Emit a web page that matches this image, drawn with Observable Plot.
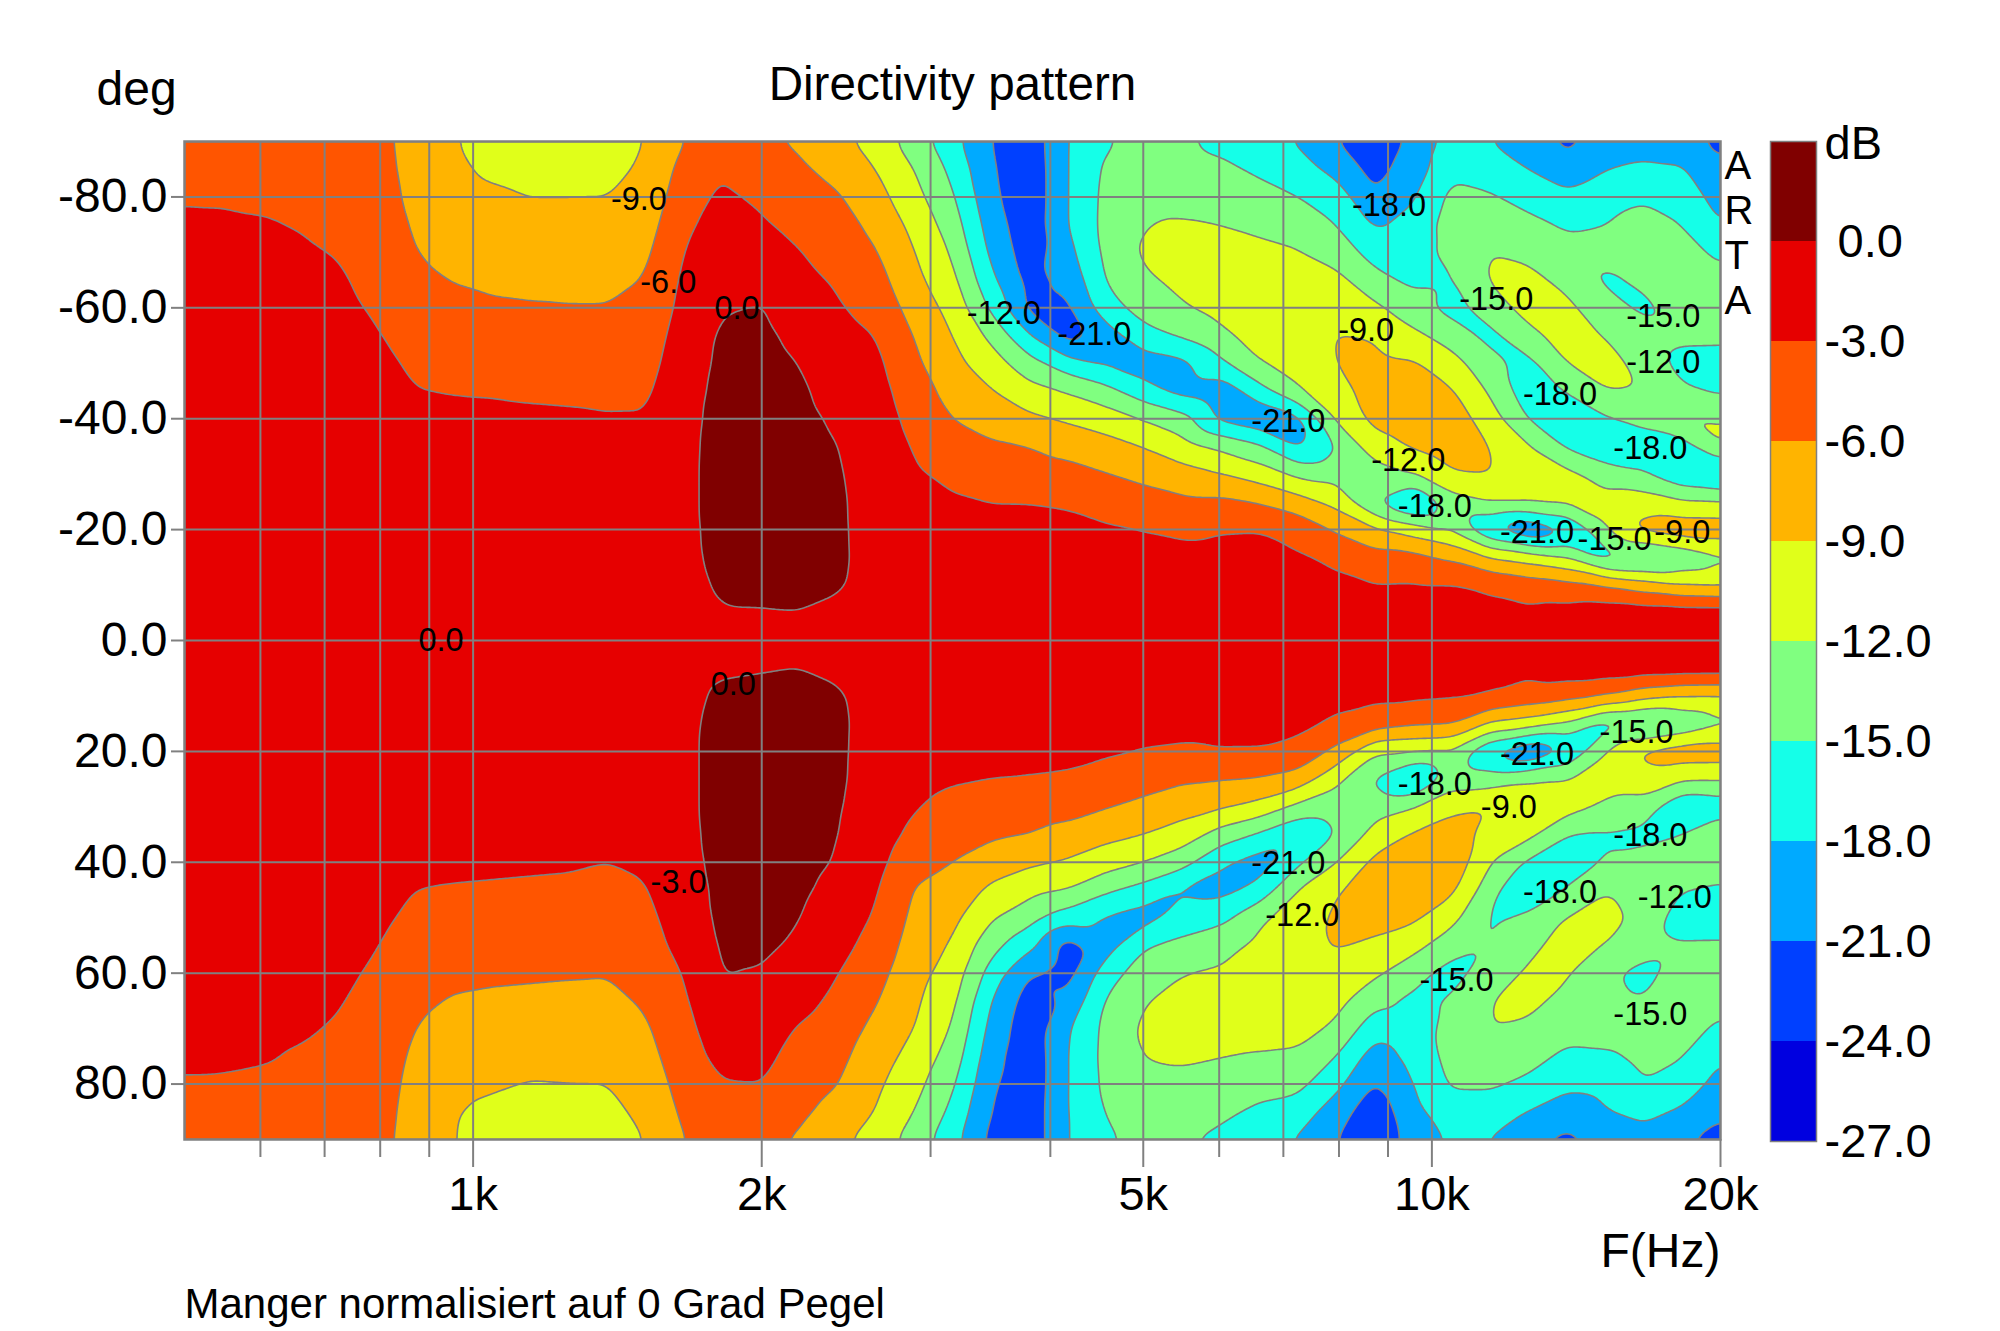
<!DOCTYPE html>
<html><head><meta charset="utf-8">
<script src="https://cdn.jsdelivr.net/npm/d3@7"></script>
<script src="https://cdn.jsdelivr.net/npm/@observablehq/plot@0.6"></script>
<style>
html,body{margin:0;padding:0;background:#fff}
#wrap{position:relative;width:2000px;height:1331px;overflow:hidden}
#wrap svg{position:absolute;left:0;top:0;background:transparent}
</style></head><body><div id="wrap"></div>
<script>
// Frequency range (log scale, evenly spaced columns) and angle rows (-90..90 by 5)
const freqMin = 500, freqMax = 20000;
const angles = [-90,-85,-80,-75,-70,-65,-60,-55,-50,-45,-40,-35,-30,-25,-20,-15,-10,-5,0,5,10,15,20,25,30,35,40,45,50,55,60,65,70,75,80,85,90];
// Level in dB, one list per frequency column, each read top (-90) to bottom (+90)
const dbColumns = [
[-4.0,-3.7,-3.2,-2.6,-2.3,-2.1,-1.9,-1.7,-1.5,-1.3,-1.2,-1.1,-1.0,-0.9,-0.8,-0.7,-0.6,-0.5,-0.5,-0.5,-0.6,-0.7,-0.8,-0.9,-1.0,-1.1,-1.2,-1.3,-1.5,-1.7,-1.9,-2.1,-2.3,-2.6,-3.2,-3.7,-4.0],
[-4.0,-3.7,-3.2,-2.7,-2.4,-2.1,-1.9,-1.7,-1.5,-1.3,-1.2,-1.1,-1.0,-0.9,-0.8,-0.7,-0.6,-0.6,-0.5,-0.6,-0.6,-0.7,-0.8,-0.9,-1.0,-1.1,-1.2,-1.3,-1.5,-1.7,-1.9,-2.1,-2.4,-2.7,-3.2,-3.7,-4.0],
[-4.2,-3.9,-3.4,-2.8,-2.5,-2.2,-2.0,-1.8,-1.6,-1.4,-1.3,-1.1,-1.0,-0.9,-0.8,-0.7,-0.6,-0.6,-0.5,-0.6,-0.6,-0.7,-0.8,-0.9,-1.0,-1.1,-1.3,-1.4,-1.6,-1.8,-2.0,-2.2,-2.5,-2.8,-3.4,-3.9,-4.2],
[-4.4,-4.0,-3.6,-3.1,-2.7,-2.4,-2.1,-1.9,-1.7,-1.5,-1.3,-1.2,-1.0,-0.9,-0.8,-0.7,-0.7,-0.6,-0.6,-0.6,-0.7,-0.7,-0.8,-0.9,-1.0,-1.2,-1.3,-1.5,-1.7,-1.9,-2.1,-2.4,-2.7,-3.2,-3.6,-4.0,-4.4],
[-4.8,-4.4,-4.0,-3.6,-3.1,-2.7,-2.4,-2.1,-1.9,-1.6,-1.4,-1.2,-1.1,-1.0,-0.9,-0.8,-0.7,-0.7,-0.7,-0.7,-0.7,-0.8,-0.9,-1.0,-1.1,-1.2,-1.4,-1.6,-1.9,-2.1,-2.4,-2.8,-3.2,-3.6,-4.0,-4.4,-4.8],
[-5.2,-5.0,-4.7,-4.4,-4.1,-3.7,-3.3,-2.8,-2.3,-1.9,-1.6,-1.4,-1.2,-1.1,-1.0,-0.9,-0.8,-0.8,-0.8,-0.8,-0.8,-0.9,-1.0,-1.1,-1.2,-1.4,-1.7,-2.0,-2.4,-2.9,-3.4,-3.9,-4.3,-4.6,-4.8,-5.0,-5.2],
[-7.0,-6.9,-6.7,-6.3,-5.9,-5.3,-4.7,-4.0,-3.4,-2.9,-2.3,-1.9,-1.6,-1.3,-1.2,-1.1,-1.0,-0.9,-0.9,-0.9,-1.0,-1.1,-1.2,-1.3,-1.6,-1.9,-2.3,-3.0,-3.6,-4.2,-4.8,-5.4,-6.0,-6.4,-6.7,-6.9,-7.0],
[-8.8,-8.4,-8.0,-7.6,-6.9,-6.1,-5.3,-4.6,-3.9,-3.1,-2.4,-1.9,-1.6,-1.4,-1.2,-1.1,-1.0,-0.9,-0.9,-0.9,-1.0,-1.1,-1.2,-1.4,-1.6,-1.8,-2.4,-3.2,-3.9,-4.6,-5.4,-6.2,-7.0,-7.8,-8.4,-8.8,-8.9],
[-10.2,-9.5,-8.5,-7.9,-7.2,-6.4,-5.7,-4.9,-4.1,-3.2,-2.4,-1.9,-1.6,-1.4,-1.2,-1.1,-1.0,-0.9,-0.8,-0.9,-1.0,-1.1,-1.2,-1.4,-1.6,-1.8,-2.5,-3.3,-4.0,-4.8,-5.6,-6.4,-7.2,-8.0,-8.7,-9.5,-10.3],
[-10.6,-9.9,-9.0,-8.2,-7.4,-6.6,-5.8,-5.0,-4.2,-3.4,-2.5,-1.9,-1.6,-1.4,-1.2,-1.1,-1.0,-0.9,-0.8,-0.9,-1.0,-1.1,-1.2,-1.4,-1.5,-1.7,-2.6,-3.4,-4.2,-4.9,-5.7,-6.5,-7.4,-8.3,-9.1,-10.0,-10.7],
[-10.7,-10.0,-9.0,-8.2,-7.4,-6.6,-5.9,-5.1,-4.3,-3.5,-2.6,-2.0,-1.6,-1.4,-1.2,-1.1,-1.0,-0.9,-0.8,-0.9,-1.0,-1.1,-1.2,-1.4,-1.5,-1.8,-2.7,-3.5,-4.3,-5.0,-5.8,-6.6,-7.4,-8.3,-9.0,-10.0,-10.7],
[-10.3,-9.7,-9.0,-8.2,-7.4,-6.6,-5.9,-5.2,-4.4,-3.6,-2.8,-2.1,-1.7,-1.4,-1.2,-1.1,-1.0,-0.9,-0.8,-0.9,-1.0,-1.1,-1.2,-1.4,-1.6,-2.0,-3.0,-3.8,-4.5,-5.2,-5.9,-6.6,-7.4,-8.2,-9.0,-9.8,-10.4],
[-9.0,-8.6,-8.1,-7.4,-6.6,-5.9,-5.2,-4.6,-4.1,-3.5,-2.8,-2.2,-1.7,-1.4,-1.2,-1.0,-0.9,-0.8,-0.8,-0.8,-0.9,-1.0,-1.2,-1.4,-1.6,-2.0,-2.6,-3.2,-3.8,-4.3,-4.9,-5.7,-6.4,-7.0,-7.6,-8.3,-9.0],
[-6.0,-5.0,-4.2,-3.4,-2.9,-2.5,-2.2,-1.7,-1.3,-0.9,-0.6,-0.45,-0.4,-0.4,-0.4,-0.4,-0.5,-0.6,-0.6,-0.6,-0.5,-0.4,-0.4,-0.4,-0.4,-0.5,-0.7,-1.0,-1.4,-2.0,-2.9,-3.4,-3.9,-4.4,-5.0,-5.5,-6.0],
[-4.5,-3.2,-2.5,-2.2,-1.7,-1.3,-0.2,0.4,0.5,0.6,0.6,0.6,0.6,0.6,0.5,0.4,0.2,-0.1,-0.5,-0.2,0.3,0.5,0.6,0.6,0.6,0.6,0.6,0.5,0.5,0.3,0.1,-0.4,-1.2,-2.0,-3.2,-4.2,-4.9],
[-5.6,-4.6,-3.3,-2.7,-2.0,-1.1,0.2,0.6,0.8,0.9,0.9,0.9,0.9,0.9,0.9,0.7,0.4,-0.1,-0.4,-0.1,0.4,0.7,0.9,0.9,0.9,0.9,0.9,0.9,0.7,0.4,-0.1,-0.8,-1.5,-2.2,-3.0,-4.4,-5.6],
[-6.4,-5.5,-4.5,-3.6,-2.9,-2.3,-1.5,-0.6,0.0,0.4,0.6,0.7,0.8,0.8,0.8,0.7,0.5,-0.05,-0.5,0.0,0.5,0.7,0.8,0.8,0.7,0.7,0.6,0.4,0.1,-0.3,-1.0,-2.0,-3.2,-4.0,-4.7,-5.4,-6.3],
[-8.2,-6.9,-5.7,-4.7,-4.0,-3.3,-2.7,-2.0,-1.4,-0.9,-0.3,0.05,0.2,0.3,0.3,0.3,0.2,-0.4,-0.6,-0.3,0.2,0.3,0.3,0.3,0.2,0.1,-0.1,-0.6,-1.3,-2.0,-2.9,-3.7,-4.5,-5.2,-5.9,-7.0,-8.3],
[-10.2,-9.0,-7.9,-6.8,-5.8,-4.9,-4.0,-3.0,-2.3,-1.8,-1.4,-1.1,-0.9,-0.8,-0.7,-0.6,-0.6,-0.6,-0.6,-0.6,-0.6,-0.6,-0.7,-0.8,-1.0,-1.4,-2.0,-2.7,-3.3,-4.1,-5.0,-5.8,-6.7,-7.6,-8.4,-9.1,-10.3],
[-13.5,-12.0,-11.0,-9.8,-8.9,-8.1,-7.1,-6.1,-5.4,-4.6,-3.9,-3.2,-2.6,-2.0,-1.6,-1.3,-1.1,-0.9,-0.9,-0.9,-1.0,-1.2,-1.5,-2.0,-2.8,-3.7,-5.0,-6.2,-6.7,-7.3,-7.9,-8.5,-9.0,-10.0,-11.0,-12.0,-13.3],
[-17.0,-15.7,-14.6,-13.5,-12.3,-11.2,-10.0,-9.0,-8.2,-7.0,-6.0,-5.0,-3.6,-2.7,-2.1,-1.7,-1.4,-1.2,-1.0,-1.0,-1.2,-1.4,-1.8,-2.7,-3.9,-4.9,-6.0,-7.1,-8.3,-9.3,-10.3,-11.2,-12.2,-13.3,-14.5,-15.7,-16.9],
[-21.0,-20.6,-20.2,-19.4,-18.6,-17.3,-15.5,-12.7,-10.6,-8.8,-7.2,-5.6,-4.3,-3.0,-2.3,-1.9,-1.6,-1.4,-1.2,-1.2,-1.4,-1.7,-2.2,-3.0,-4.1,-5.5,-7.5,-9.6,-11.6,-14.0,-16.2,-18.0,-18.9,-19.7,-20.4,-21.1,-21.8],
[-23.0,-23.3,-23.3,-23.0,-22.6,-22.0,-21.8,-17.8,-13.9,-11.0,-8.4,-6.0,-4.6,-3.0,-2.4,-2.0,-1.7,-1.5,-1.3,-1.3,-1.5,-1.8,-2.3,-3.1,-4.6,-6.0,-8.5,-11.1,-13.8,-17.2,-21.1,-22.4,-23.0,-23.3,-23.3,-23.0,-23.0],
[-18.0,-18.0,-18.0,-18.0,-19.0,-20.3,-21.6,-22.2,-16.8,-12.2,-9.4,-7.0,-5.0,-3.2,-2.5,-2.1,-1.8,-1.6,-1.4,-1.4,-1.6,-1.9,-2.4,-3.3,-4.9,-7.0,-9.3,-12.0,-16.5,-22.5,-22.2,-20.4,-18.3,-18.0,-18.0,-18.0,-18.0],
[-15.4,-14.5,-14.2,-14.1,-14.3,-14.8,-16.2,-19.5,-18.4,-14.0,-10.5,-7.9,-5.9,-4.0,-2.7,-2.2,-1.9,-1.7,-1.5,-1.5,-1.7,-2.0,-2.6,-4.2,-5.8,-8.2,-10.6,-14.5,-18.3,-19.4,-16.4,-14.7,-14.2,-14.1,-14.3,-14.8,-15.5],
[-13.6,-13.2,-12.8,-12.1,-11.5,-12.4,-13.8,-16.0,-19.5,-16.9,-12.2,-9.1,-6.8,-4.8,-3.0,-2.3,-2.0,-1.8,-1.6,-1.6,-1.8,-2.1,-3.1,-4.9,-6.7,-9.0,-12.0,-16.2,-19.3,-15.2,-13.4,-12.1,-11.4,-11.9,-12.9,-13.4,-14.0],
[-14.6,-13.8,-13.4,-11.6,-11.0,-11.4,-12.2,-14.5,-18.8,-19.2,-13.9,-10.9,-7.9,-5.4,-3.3,-2.5,-2.1,-1.9,-1.7,-1.7,-1.9,-2.3,-3.3,-5.6,-7.8,-10.4,-13.9,-18.5,-16.5,-14.3,-12.0,-11.3,-11.0,-11.5,-12.9,-13.9,-14.7],
[-15.9,-14.3,-13.5,-12.0,-11.0,-10.6,-11.0,-12.6,-15.6,-20.0,-18.8,-12.6,-8.9,-5.4,-3.0,-2.6,-2.2,-2.0,-1.8,-1.8,-2.0,-2.4,-3.0,-5.9,-8.6,-13.4,-17.6,-19.0,-15.7,-13.1,-11.6,-10.6,-10.6,-11.9,-13.5,-14.4,-15.7],
[-16.9,-15.6,-13.8,-12.8,-11.1,-10.6,-10.4,-10.9,-12.0,-16.2,-20.2,-14.5,-10.4,-6.2,-2.9,-2.6,-2.3,-2.1,-1.9,-1.9,-2.1,-2.5,-3.0,-6.2,-10.0,-15.5,-19.4,-17.0,-12.5,-11.2,-10.5,-10.3,-10.6,-12.3,-13.9,-15.6,-17.0],
[-18.3,-16.8,-15.0,-13.4,-11.8,-10.7,-10.2,-10.5,-11.3,-12.1,-19.0,-18.6,-12.7,-7.7,-4.0,-2.7,-2.4,-2.2,-2.0,-2.0,-2.2,-2.4,-3.8,-7.2,-12.8,-17.9,-15.6,-11.8,-10.6,-10.0,-10.0,-10.2,-10.8,-12.6,-14.2,-16.4,-18.3],
[-20.9,-19.0,-16.4,-15.0,-13.6,-11.0,-10.0,-8.9,-8.9,-10.0,-11.4,-15.0,-13.0,-9.9,-6.4,-3.4,-2.6,-2.3,-2.1,-2.1,-2.3,-3.4,-6.8,-11.2,-13.6,-15.0,-12.0,-9.2,-8.5,-8.8,-10.0,-11.1,-12.6,-15.0,-17.2,-19.6,-20.9],
[-24.1,-22.0,-20.8,-18.4,-16.0,-14.2,-11.3,-9.2,-8.3,-7.9,-8.2,-10.2,-13.5,-15.2,-8.4,-5.0,-2.8,-2.4,-2.2,-2.2,-2.4,-4.5,-11.6,-15.4,-13.1,-10.9,-8.2,-7.7,-8.0,-9.5,-11.4,-14.2,-16.9,-19.4,-21.2,-23.0,-24.2],
[-20.0,-19.6,-18.3,-17.0,-16.2,-15.6,-13.8,-11.3,-8.6,-7.3,-7.4,-8.6,-12.0,-19.0,-10.4,-5.0,-2.7,-2.4,-2.2,-2.2,-2.4,-5.4,-12.0,-19.0,-12.0,-8.6,-7.1,-7.3,-8.4,-11.0,-13.9,-15.6,-16.3,-17.0,-18.0,-18.8,-19.3],
[-17.0,-15.7,-14.2,-13.5,-14.0,-15.3,-16.2,-13.3,-10.9,-8.7,-7.3,-7.2,-9.3,-13.4,-12.3,-6.4,-2.7,-2.4,-2.3,-2.3,-2.6,-5.7,-12.4,-13.5,-9.8,-7.4,-6.9,-8.3,-11.0,-13.7,-16.2,-14.6,-14.1,-14.0,-14.6,-16.5,-17.7],
[-18.0,-16.8,-14.6,-13.2,-12.0,-11.7,-13.3,-16.0,-13.9,-12.4,-10.6,-9.0,-8.9,-11.8,-18.3,-9.0,-3.3,-2.5,-2.3,-2.3,-3.0,-9.3,-18.3,-13.5,-8.9,-10.3,-11.8,-13.8,-15.3,-15.1,-13.3,-12.0,-12.0,-13.4,-14.6,-16.4,-18.1],
[-19.6,-18.0,-16.2,-14.1,-12.6,-11.3,-11.0,-12.7,-16.0,-16.8,-15.2,-11.6,-10.6,-11.5,-21.3,-10.3,-4.3,-2.5,-2.4,-2.4,-4.0,-10.4,-21.3,-12.2,-10.0,-11.0,-15.6,-18.4,-14.0,-12.7,-11.6,-11.3,-12.5,-14.0,-15.6,-18.1,-20.5],
[-21.8,-19.8,-17.3,-15.4,-14.0,-12.7,-11.4,-11.0,-11.8,-14.8,-17.6,-15.5,-11.0,-11.2,-18.6,-12.0,-5.0,-2.0,-1.5,-1.5,-4.8,-12.5,-18.2,-11.8,-10.6,-15.0,-17.3,-14.6,-11.8,-10.9,-11.6,-12.8,-14.0,-15.6,-17.4,-19.4,-21.8],
[-19.7,-18.1,-16.1,-15.0,-13.9,-15.6,-13.6,-12.1,-11.2,-11.9,-15.4,-17.4,-13.4,-11.0,-12.3,-16.5,-6.0,-1.3,-1.0,-1.3,-6.0,-16.5,-11.9,-10.8,-12.5,-15.4,-14.6,-12.0,-11.2,-12.0,-14.6,-15.3,-13.8,-15.4,-17.3,-18.2,-20.0],
[-19.4,-17.4,-15.4,-13.8,-13.3,-14.3,-15.8,-13.4,-12.7,-12.1,-14.2,-16.4,-14.8,-10.4,-8.0,-16.5,-7.6,-1.3,-1.0,-1.3,-8.0,-16.5,-8.4,-10.1,-13.3,-15.8,-13.9,-12.3,-12.6,-13.6,-16.0,-14.9,-13.9,-14.2,-15.1,-17.3,-19.0],
[-19.1,-17.8,-16.3,-15.0,-14.0,-13.7,-13.5,-14.2,-16.3,-14.4,-11.8,-16.5,-17.6,-11.6,-7.0,-14.6,-9.0,-1.3,-1.0,-1.3,-9.0,-14.7,-7.2,-11.5,-17.9,-15.1,-11.8,-14.9,-16.9,-14.6,-13.5,-13.0,-14.0,-14.8,-16.4,-18.4,-20.5],
[-22.5,-20.0,-19.2,-18.0,-15.6,-14.2,-13.2,-14.3,-16.3,-15.6,-12.0,-11.7,-19.0,-11.8,-7.0,-12.8,-9.4,-1.3,-1.0,-1.3,-9.2,-12.8,-7.2,-11.6,-17.0,-12.0,-12.0,-16.0,-16.6,-14.6,-13.3,-14.3,-15.5,-17.8,-19.0,-20.3,-22.5]
];
// Colour bands
const levels = [-27,-24,-21,-18,-15,-12,-9,-6,-3,0];
const bandColors = ["#0000e0","#0040ff","#00aaff","#15ffe8","#80ff80","#e0ff1a","#ffb400","#ff5500","#e60000","#800000"];
const barTop = 3;
const barLabels = ["\u00a00.0","-3.0","-6.0","-9.0","-12.0","-15.0","-18.0","-21.0","-24.0","-27.0"];
const barValues = [0,-3,-6,-9,-12,-15,-18,-21,-24,-27];
// Axes
const majorFreqs = [1000,2000,5000,10000,20000];
const majorLabels = ["1k","2k","5k","10k","20k"];
const gridFreqs = [600,700,800,900,1000,2000,3000,4000,5000,6000,7000,8000,9000,10000];
const minorFreqs = [600,700,800,900,3000,4000,6000,7000,8000,9000];
const degTicks = [-80,-60,-40,-20,0,20,40,60,80];
// In-plot contour labels
const labelText = ["-9.0","-6.0","0.0","-12.0","-21.0","-18.0","-9.0","-15.0","-15.0","-12.0","-18.0","-21.0","-18.0","-12.0","-18.0","-21.0","-15.0","-9.0","0.0","0.0","-15.0","-21.0","-18.0","-9.0","-18.0","-21.0","-3.0","-18.0","-12.0","-12.0","-15.0","-15.0"];
const labelFreq = [1489,1598,1885,3577,4446,9021,8540,11670,17430,17430,13600,7084,16900,9447,10070,12870,15510,18250,926,1868,16350,12870,10070,12030,16900,7084,1638,13600,17920,7326,10610,16900];
const labelDeg = [-79.5,-64.6,-59.8,-58.9,-55.2,-78.4,-55.9,-61.4,-58.4,-50.1,-44.4,-39.5,-34.7,-32.4,-24.1,-19.5,-18.2,-19.5,0,8,16.6,20.5,26,30.1,35.2,40.2,43.7,45.5,46.4,49.7,61.4,67.4];

const FONT = "Liberation Sans";
const GRAY = "#808080";
const lf = Math.log10;
const nCols = dbColumns.length, nRows = angles.length;
const logStep = (lf(freqMax) - lf(freqMin)) / (nCols - 1);
const samples = [];
for (let j = 0; j < nRows; ++j) for (let i = 0; i < nCols; ++i)
  samples.push({logF: lf(freqMin) + i * logStep, deg: angles[j], db: dbColumns[i][j]});

const main = Plot.plot({
  width: 2000, height: 1331,
  marginLeft: 184, marginRight: 280, marginTop: 141, marginBottom: 192,
  style: {fontFamily: FONT, background: "transparent", color: "#000"},
  x: {domain: [lf(freqMin), lf(freqMax)], axis: null},
  y: {domain: [90, -90], axis: null},
  color: {type: "threshold", domain: levels.slice(1), range: bandColors},
  marks: [
    Plot.contour(samples, {
      x: "logF", y: "deg", fill: "db", interpolate: "barycentric", pixelSize: 2, blur: 3,
      thresholds: levels, stroke: GRAY, strokeWidth: 1.6, clip: "frame"
    }),
    Plot.gridX(gridFreqs.map(lf), {stroke: GRAY, strokeOpacity: 1, strokeWidth: 2}),
    Plot.gridY(degTicks, {stroke: GRAY, strokeOpacity: 1, strokeWidth: 2}),
    Plot.frame({stroke: GRAY, strokeWidth: 2.5}),
    Plot.axisY(degTicks, {anchor: "left", tickSize: 13, tickPadding: 4, stroke: GRAY, strokeWidth: 2, fill: "#000", fontSize: 48, tickFormat: d => d.toFixed(1), label: null}),
    Plot.axisX(majorFreqs.map(lf), {anchor: "bottom", tickSize: 28, tickPadding: 9, stroke: GRAY, strokeWidth: 2, fill: "#000", fontSize: 47, tickFormat: (d, i) => majorLabels[i], label: null}),
    Plot.axisX(minorFreqs.map(lf), {anchor: "bottom", tickSize: 18, stroke: GRAY, strokeWidth: 2, tickFormat: () => "", label: null}),
    Plot.text(labelText, {x: (d, i) => lf(labelFreq[i]), y: (d, i) => labelDeg[i], text: d => d, fill: "#000", fontSize: 32.5}),
    Plot.text(["Directivity pattern"], {frameAnchor: "top", dy: -57, fontSize: 47.6, fill: "#000", lineAnchor: "middle"}),
    Plot.text(["deg"], {frameAnchor: "top-left", dx: -88, dy: -52, fontSize: 48, fill: "#000", textAnchor: "start", lineAnchor: "middle"}),
    Plot.text(["F(Hz)"], {frameAnchor: "bottom-right", dy: 112, fontSize: 48, fill: "#000", textAnchor: "end", lineAnchor: "middle"}),
    Plot.text(["Manger normalisiert auf 0 Grad Pegel"], {frameAnchor: "bottom-left", dy: 165, fontSize: 42, fill: "#000", textAnchor: "start", lineAnchor: "middle"}),
    Plot.text(["A\nR\nT\nA"], {frameAnchor: "top-right", dx: 4, dy: 6, fontSize: 40, lineHeight: 1.12, fill: "#000", textAnchor: "start", lineAnchor: "top"})
  ]
});

const bands = levels.map((lo, i) => ({lo, hi: i + 1 < levels.length ? levels[i + 1] : barTop, color: bandColors[i]}));
const bar = Plot.plot({
  width: 2000, height: 1331,
  marginLeft: 1770, marginRight: 184, marginTop: 141, marginBottom: 190,
  style: {fontFamily: FONT, background: "transparent"},
  x: {domain: [0, 1], axis: null},
  y: {domain: [levels[0], barTop], axis: null},
  marks: [
    Plot.rectY(bands, {x1: 0, x2: 1, y1: "lo", y2: "hi", fill: "color"}),
    Plot.frame({stroke: GRAY, strokeWidth: 1.5}),
    Plot.text(barLabels, {x: 1, y: (d, i) => barValues[i], text: d => d, textAnchor: "start", dx: 8, fontSize: 47, fill: "#000"}),
    Plot.text(["dB"], {x: 1, y: barTop, textAnchor: "start", dx: 8, dy: 2, fontSize: 47, fill: "#000"})
  ]
});
const wrap = document.getElementById("wrap");
wrap.appendChild(main);
wrap.appendChild(bar);
</script></body></html>
